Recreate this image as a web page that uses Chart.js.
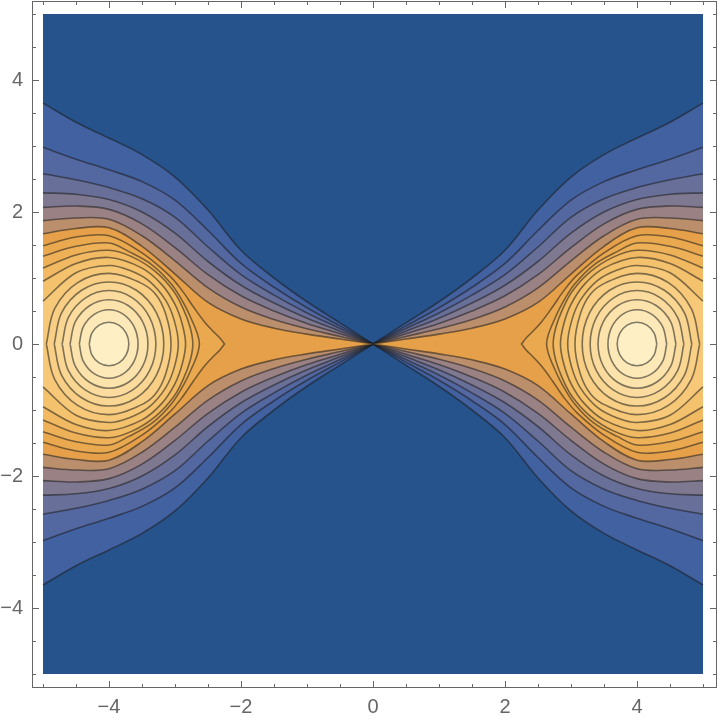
<!DOCTYPE html>
<html>
<head>
<meta charset="utf-8">
<script src="https://cdn.jsdelivr.net/npm/chart.js@4.4.1/dist/chart.umd.min.js"></script>
<style>
  html, body { margin: 0; padding: 0; background: #ffffff; }
  #wrap { width: 720px; height: 722px; }
</style>
</head>
<body>
<div id="wrap"><canvas id="myChart"></canvas></div>
<script>
// plot range and ticks
const xRange = [-5, 5];
const yRange = [-5, 5];
const majorTicks = [-4, -2, 0, 2, 4];
const minorTicks = [-5, -4.5, -4, -3.5, -3, -2.5, -2, -1.5, -1, -0.5, 0, 0.5, 1, 1.5, 2, 2.5, 3, 3.5, 4, 4.5, 5];

// contour lines, upper right quadrant only (picture is mirrored in x and y)
// open ones start in the origin and run to the right edge
const openContours = [
  [[0,0],[0.5,0.32],[1,0.64],[1.5,1.0],[2,1.42],[2.5,2.03],[3,2.53],[3.5,2.87],[4,3.12],[4.5,3.36],[5,3.65]],
  [[0,0],[0.5,0.275],[1,0.55],[1.5,0.86],[2,1.22],[2.5,1.72],[3,2.18],[3.5,2.46],[4,2.64],[4.5,2.8],[5,2.98]],
  [[0,0],[0.5,0.235],[1,0.47],[1.5,0.74],[2,1.05],[2.5,1.47],[3,1.92],[3.5,2.2],[4,2.37],[4.5,2.49],[5,2.58]],
  [[0,0],[0.5,0.195],[1,0.39],[1.5,0.62],[2,0.89],[2.5,1.25],[3,1.68],[3.5,2.0],[4,2.19],[4.5,2.27],[5,2.29]],
  [[0,0],[0.5,0.155],[1,0.31],[1.5,0.5],[2,0.73],[2.5,1.05],[3,1.46],[3.5,1.82],[4,2.04],[4.5,2.09],[5,2.07]],
  [[0,0],[0.5,0.115],[1,0.23],[1.5,0.37],[2,0.56],[2.5,0.85],[3,1.26],[3.5,1.64],[4,1.89],[4.5,1.91],[5,1.87]],
  [[0,0],[0.5,0.075],[1,0.15],[1.5,0.24],[2,0.38],[2.5,0.63],[3,1.06],[3.5,1.48],[4,1.76],[4.5,1.75],[5,1.67]]
];

// closed ones around the peak at (4, 0), from the outside in
const closedContours = [
  [[2.25,0],[2.32,0.09],[2.42,0.19],[2.55,0.33],[2.72,0.56],[2.9,0.82],[3.1,1.05],[3.5,1.38],[4,1.64],[4.5,1.62],[5,1.49]],
  [[2.63,0],[2.66,0.15],[2.74,0.35],[2.86,0.6],[3.05,0.9],[3.35,1.2],[3.7,1.4],[4,1.53],[4.5,1.48],[5,1.33]],
  [[2.73,0],[2.77,0.25],[2.87,0.52],[3.02,0.8],[3.3,1.1],[3.65,1.32],[4,1.42],[4.5,1.35],[5,1.15]],
  [[2.84,0],[2.89,0.3],[3.0,0.6],[3.2,0.9],[3.5,1.15],[4,1.31],[4.5,1.22],[5,0.95]],
  [[2.95,0],[3.01,0.35],[3.14,0.66],[3.4,0.96],[3.7,1.12],[4,1.19],[4.5,1.08],[5,0.65]],
  [[3.06,0],[3.14,0.45],[3.3,0.76],[3.53,0.93],[4,1.07],[4.475,0.93],[4.823,0.535],[4.95,0]],
  [[3.17,0],[3.281,0.47],[3.585,0.814],[4,0.94],[4.415,0.814],[4.719,0.47],[4.83,0]],
  [[3.29,0],[3.385,0.405],[3.645,0.70],[4,0.81],[4.355,0.70],[4.615,0.405],[4.71,0]],
  [[3.41,0],[3.489,0.335],[3.705,0.58],[4,0.67],[4.295,0.58],[4.511,0.335],[4.59,0]],
  [[3.56,0],[3.619,0.26],[3.78,0.45],[4,0.52],[4.225,0.45],[4.39,0.26],[4.45,0]],
  [[3.70,0],[3.74,0.165],[3.85,0.286],[4,0.33],[4.15,0.286],[4.26,0.165],[4.30,0]]
];

// fill colour of each band, outermost (background) first
const bandColors = [
  '#26538b', '#4161a1', '#5367a0', '#68709a', '#7f7891', '#9a8284', '#bb8f6c', '#e6a04a',
  '#eba94f', '#efb157', '#f1b961', '#f4c16c', '#f6c877', '#f8cf84', '#f9d691', '#fbdc9e',
  '#fce2ab', '#fde9b8', '#fef0c4'
];

const lineColor = 'rgba(28,28,28,0.55)';
const axisColor = '#666666';

// turn one quadrant curve into the path of a whole island (top + mirrored bottom)
function islandPath(q, sx, sharp) {
  let top = q.slice().reverse().map(p => ({x: sx * p[0], y: p[1]}));
  let bottom = q.slice(1).map(p => ({x: sx * p[0], y: -p[1]}));
  if (sharp) {
    // repeat the tip so the spline keeps a corner there
    bottom.unshift({x: sx * q[0][0], y: 0});
  }
  return top.concat(bottom);
}

let datasets = [];

// lowest band: whole plot range
datasets.push({
  data: [
    {x: xRange[0], y: yRange[0]}, {x: xRange[0], y: yRange[1]},
    {x: xRange[1], y: yRange[1]}, {x: xRange[1], y: yRange[0]}
  ],
  fill: 'shape',
  backgroundColor: bandColors[0],
  borderWidth: 0,
  tension: 0,
  order: 100
});

let allContours = openContours.concat(closedContours);
allContours.forEach(function(q, k) {
  // the fans meet in a corner at the origin, the first closed one has a pointed tip
  let sharp = k <= openContours.length;
  let data = islandPath(q, -1, sharp)
    .concat([{x: 0, y: null}])
    .concat(islandPath(q, 1, sharp));
  datasets.push({
    data: data,
    fill: 'shape',
    backgroundColor: bandColors[k + 1],
    borderColor: lineColor,
    borderWidth: 1.6,
    tension: 0.35,
    order: 99 - k
  });
});

const framePlugin = {
  id: 'frame',
  afterDraw(chart) {
    const ctx = chart.ctx;
    const a = chart.chartArea;
    const sx = chart.scales.x;
    const sy = chart.scales.y;
    ctx.save();
    ctx.strokeStyle = axisColor;
    ctx.lineWidth = 1;
    ctx.strokeRect(a.left + 0.5, a.top + 0.5, a.right - a.left - 1, a.bottom - a.top - 1);
    ctx.beginPath();
    minorTicks.forEach(function(v) {
      let len = majorTicks.includes(v) ? 7 : 4;
      let px = Math.round(sx.getPixelForValue(v)) + 0.5;
      ctx.moveTo(px, a.bottom); ctx.lineTo(px, a.bottom - len);
      ctx.moveTo(px, a.top); ctx.lineTo(px, a.top + len);
      let py = Math.round(sy.getPixelForValue(v)) + 0.5;
      ctx.moveTo(a.left, py); ctx.lineTo(a.left + len, py);
      ctx.moveTo(a.right, py); ctx.lineTo(a.right - len, py);
    });
    ctx.stroke();
    ctx.restore();
  }
};

function tickLabel(v) {
  return v < 0 ? '\u2212' + Math.abs(v) : String(v);
}

const tickFont = { family: 'Liberation Sans, Arial, sans-serif', size: 20 };

const chart = new Chart('myChart', {
  type: 'line',
  data: { datasets: datasets },
  plugins: [framePlugin],
  options: {
    responsive: true,
    maintainAspectRatio: false,
    animation: false,
    layout: { padding: { top: 1, right: 3, left: 0, bottom: 0 } },
    elements: { point: { radius: 0, hitRadius: 0, hoverRadius: 0 } },
    plugins: {
      legend: { display: false },
      tooltip: { enabled: false }
    },
    events: [],
    scales: {
      x: {
        type: 'linear',
        min: xRange[0] - 11 / 66,
        max: xRange[1] + 14 / 66,
        grid: { display: false, drawTicks: false },
        border: { display: false },
        afterBuildTicks: s => { s.ticks = majorTicks.map(v => ({value: v})); },
        afterFit: s => { s.height = 34; s.paddingLeft = 0; s.paddingRight = 0; },
        ticks: {
          color: axisColor,
          font: tickFont,
          padding: 7,
          maxRotation: 0,
          autoSkip: false,
          callback: tickLabel
        }
      },
      y: {
        type: 'linear',
        min: yRange[0] - 14 / 66,
        max: yRange[1] + 13 / 66,
        grid: { display: false, drawTicks: false },
        border: { display: false },
        afterBuildTicks: s => { s.ticks = majorTicks.map(v => ({value: v})); },
        afterFit: s => { s.width = 32; s.paddingTop = 0; s.paddingBottom = 0; },
        ticks: {
          color: axisColor,
          font: tickFont,
          padding: 9,
          autoSkip: false,
          callback: tickLabel
        }
      }
    }
  }
});
</script>
</body>
</html>
